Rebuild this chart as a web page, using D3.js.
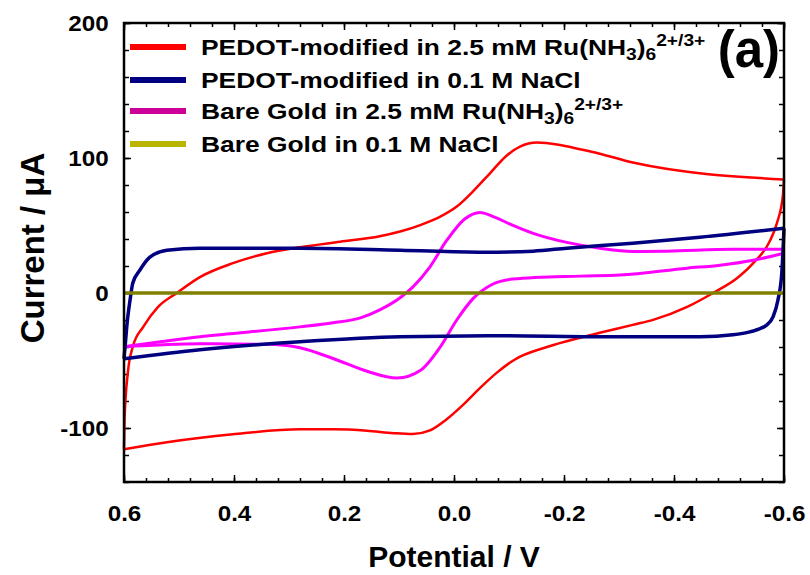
<!DOCTYPE html>
<html>
<head>
<meta charset="utf-8">
<script src="https://cdn.jsdelivr.net/npm/d3@7"></script>
<style>
  body { margin: 0; background: #fff; }
  svg text { font-family: "Liberation Sans", Arial, sans-serif; font-weight: bold; fill: #000; }
</style>
</head>
<body>
<svg id="chart" width="810" height="575"></svg>
<script>
// ---- data, [potential V, current uA] in sweep order ----
// PEDOT-modified in Ru(NH3)6 : sweep -0.6 -> 0.6 (upper) then 0.6 -> -0.6 (lower)
var redUpper = [[-0.6,84.1],[-0.325,96.6],[-0.265,103.2],[-0.229,106.5],[-0.19,109.8],[-0.151,111.4],
  [-0.12,108.5],[-0.095,101.5],[-0.065,88.5],[-0.035,75.5],[-0.005,64.0],[0.025,56.5],[0.06,50.5],
  [0.098,45.5],[0.135,42.0],[0.207,38.0],[0.28,33.9],[0.34,29.5],[0.402,22.1],[0.462,11.8],
  [0.504,0],[0.538,-10.3],[0.565,-25.1],[0.584,-39.8],[0.593,-59.0],[0.599,-93.7],[0.6,-115.8]];
var redLower = [[0.6,-115.8],[0.522,-110.6],[0.402,-104.7],[0.28,-101.0],[0.22,-101.0],[0.158,-102.0],
  [0.11,-103.8],[0.075,-104.5],[0.045,-102.0],[0.015,-94.0],[-0.016,-83.0],[-0.047,-70.5],[-0.078,-59.0],
  [-0.11,-49.4],[-0.169,-40.0],[-0.229,-33.2],[-0.265,-29.5],[-0.325,-23.6],[-0.362,-19.9],[-0.424,-10.3],
  [-0.471,0],[-0.515,11.1],[-0.544,22.1],[-0.575,39.1],[-0.587,51.6],[-0.598,72.3],[-0.6,84.1]];

// PEDOT-modified in NaCl
var navyUpper = [[-0.6,47.9],[-0.447,41.3],[-0.325,36.9],[-0.205,33.2],[-0.144,31.0],[-0.053,30.2],
  [0.098,31.7],[0.28,33.2],[0.462,33.2],[0.522,31.7],[0.553,26.5],[0.571,17.0],[0.584,7.4],
  [0.589,-5.2],[0.595,-25.1],[0.598,-39.8],[0.6,-48.7]];
var navyLower = [[0.6,-48.7],[0.462,-42.0],[0.28,-36.1],[0.098,-32.4],[-0.084,-31.7],[-0.265,-32.4],
  [-0.447,-32.4],[-0.507,-31.0],[-0.538,-28.8],[-0.569,-23.6],[-0.58,-17.7],[-0.589,-5.2],
  [-0.596,15.0],[-0.6,47.9]];

// Bare gold in Ru(NH3)6
var magUpper = [[-0.6,32.4],[-0.507,32.4],[-0.387,31.0],[-0.325,30.8],[-0.265,33.2],[-0.205,37.5],
  [-0.144,44.2],[-0.102,51.0],[-0.075,56.0],[-0.047,59.7],[-0.02,55.0],[0.013,39.1],[0.044,19.2],
  [0.075,4.4],[0.098,-3.5],[0.135,-12.5],[0.17,-18.4],[0.22,-22.0],[0.28,-25.1],[0.462,-32.4],[0.6,-39.8]];
var magLower = [[0.6,-39.8],[0.462,-37.6],[0.34,-38.0],[0.28,-40.6],[0.22,-48.5],[0.158,-58.0],
  [0.104,-63.0],[0.06,-57.0],[0.025,-40.0],[-0.005,-20.0],[-0.035,-4.0],[-0.07,6.5],[-0.107,10.3],
  [-0.229,12.5],[-0.302,13.3],[-0.424,18.4],[-0.484,20.6],[-0.544,24.3],[-0.6,29.5]];

// Bare gold in NaCl
var olive = [[0.6,0],[-0.6,0]];

var xMajor = [0.6, 0.4, 0.2, 0.0, -0.2, -0.4, -0.6];
var yMajor = [-100, 0, 100, 200];

var legendLabels = [
  [["PEDOT-modified in 2.5 mM Ru(NH",""],["3","sub"],[")",""],["6","sub"],["2+/3+","sup"]],
  [["PEDOT-modified in 0.1 M NaCl",""]],
  [["Bare Gold in 2.5 mM Ru(NH",""],["3","sub"],[")",""],["6","sub"],["2+/3+","sup"]],
  [["Bare Gold in 0.1 M NaCl",""]]
];
var legendColors = ["#ff0000", "#000080", "#cc0099", "#b8b400"];
var lineColors = ["#ff0000", "#000080", "#ff00ff", "#808000"];

// ---- chart ----
var svg = d3.select("#chart");
var pLeft = 124, pRight = 784, pTop = 23, pBottom = 482;

var x = d3.scaleLinear().domain([0.6, -0.6]).range([pLeft, pRight]);
var y = d3.scaleLinear().domain([-140, 200]).range([pBottom, pTop]);

var xMinor = d3.range(0, 31).map(function(k){ return +(0.6 - 0.04 * k).toFixed(2); });
var yMinor = d3.range(-140, 201, 20);

function styleAxis(g) {
  g.select(".domain").remove();
  g.selectAll("line").attr("stroke", "#000").attr("stroke-width", 1.5);
}

// bottom
svg.append("g").attr("transform", "translate(0," + pBottom + ")")
  .call(d3.axisBottom(x).tickValues(xMinor).tickSize(-4).tickFormat(""))
  .call(styleAxis);
var xAxis = svg.append("g").attr("transform", "translate(0," + pBottom + ")")
  .call(d3.axisBottom(x).tickValues(xMajor).tickSize(-7).tickPadding(23)
    .tickFormat(function(d){ return d.toFixed(1); }))
  .call(styleAxis);
// top
svg.append("g").attr("transform", "translate(0," + pTop + ")")
  .call(d3.axisTop(x).tickValues(xMinor).tickSize(-4).tickFormat(""))
  .call(styleAxis);
svg.append("g").attr("transform", "translate(0," + pTop + ")")
  .call(d3.axisTop(x).tickValues(xMajor).tickSize(-7).tickFormat(""))
  .call(styleAxis);
// left
svg.append("g").attr("transform", "translate(" + pLeft + ",0)")
  .call(d3.axisLeft(y).tickValues(yMinor).tickSize(-5).tickFormat(""))
  .call(styleAxis);
var yAxis = svg.append("g").attr("transform", "translate(" + pLeft + ",0)")
  .call(d3.axisLeft(y).tickValues(yMajor).tickSize(-7).tickPadding(14)
    .tickFormat(function(d){ return String(d); }))
  .call(styleAxis);
// right
svg.append("g").attr("transform", "translate(" + pRight + ",0)")
  .call(d3.axisRight(y).tickValues(yMinor).tickSize(-5).tickFormat(""))
  .call(styleAxis);
svg.append("g").attr("transform", "translate(" + pRight + ",0)")
  .call(d3.axisRight(y).tickValues(yMajor).tickSize(-7).tickFormat(""))
  .call(styleAxis);

xAxis.selectAll("text").attr("font-size", 22).attr("transform", "scale(1.1,1)");
yAxis.selectAll("text").attr("font-size", 22).attr("dy", "0.36em").attr("transform", "scale(1.1,1)");

// curves, each sweep branch is monotone in potential
var line = d3.line()
  .x(function(d){ return x(d[0]); })
  .y(function(d){ return y(d[1]); })
  .curve(d3.curveMonotoneX);

var series = [
  { parts: [redUpper, redLower], color: lineColors[0], w: 2.5 },
  { parts: [magUpper, magLower], color: lineColors[2], w: 3 },
  { parts: [navyUpper, navyLower], color: lineColors[1], w: 3.5 },
  { parts: [olive], color: lineColors[3], w: 3.5 }
];
series.forEach(function(s){
  s.parts.forEach(function(p){
    svg.append("path")
      .datum(p)
      .attr("d", line)
      .attr("fill", "none")
      .attr("stroke", s.color)
      .attr("stroke-width", s.w)
      .attr("stroke-linejoin", "round");
  });
});

// frame
svg.append("rect")
  .attr("x", pLeft).attr("y", pTop)
  .attr("width", pRight - pLeft).attr("height", pBottom - pTop)
  .attr("fill", "none").attr("stroke", "#000").attr("stroke-width", 2.5);

// legend
var legendY = [47, 80, 111, 144];
legendLabels.forEach(function(parts, i){
  svg.append("line")
    .attr("x1", 130).attr("x2", 186)
    .attr("y1", legendY[i]).attr("y2", legendY[i])
    .attr("stroke", legendColors[i]).attr("stroke-width", 6);
  var t = svg.append("text")
    .attr("transform", "translate(201," + (legendY[i] + 8) + ") scale(1.2,1)")
    .attr("font-size", 22);
  var shift = 0;
  parts.forEach(function(p){
    var target = p[1] == "sub" ? 5 : (p[1] == "sup" ? -9 : 0);
    t.append("tspan")
      .attr("dy", target - shift)
      .attr("font-size", p[1] == "" ? 22 : 16)
      .text(p[0]);
    shift = target;
  });
});

svg.append("text")
  .attr("x", 780).attr("y", 67)
  .attr("text-anchor", "end")
  .attr("font-size", 51)
  .text("(a)");

// axis titles
svg.append("text")
  .attr("x", 454).attr("y", 567)
  .attr("text-anchor", "middle")
  .attr("font-size", 30)
  .text("Potential / V");

svg.append("text")
  .attr("transform", "translate(44,248) rotate(-90)")
  .attr("text-anchor", "middle")
  .attr("font-size", 33)
  .text("Current / μA");
</script>
</body>
</html>
